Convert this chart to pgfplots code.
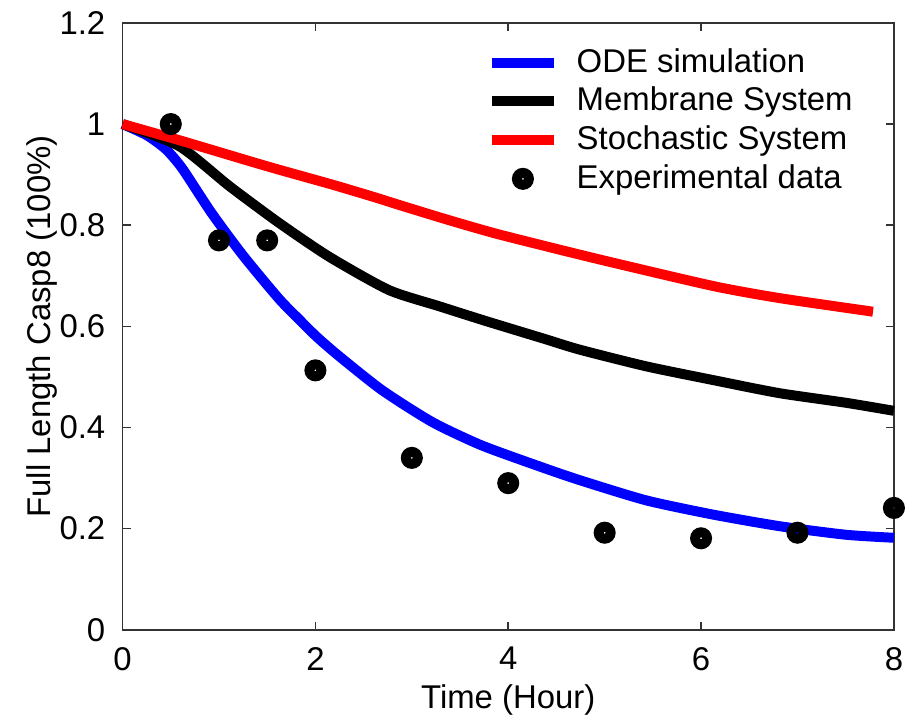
\documentclass[border=0pt]{standalone}
\usepackage{fontspec}
\setmainfont{Liberation Sans}
\usepackage{pgfplots}
\pgfplotsset{compat=1.18}
\begin{document}
\fontsize{16.5}{19}\selectfont
\begin{tikzpicture}
\begin{axis}[
  scale only axis,
  width=387pt, height=304.5pt,
  xmin=0, xmax=8, ymin=0, ymax=1.2,
  xtick={0,2,4,6,8},
  ytick={0,0.2,0.4,0.6,0.8,1,1.2},
  tick align=inside,
  major tick length=4pt,
  axis line style={line width=0.8pt, black!80},
  every tick/.style={line width=0.8pt, black!80},
  /pgf/number format/assume math mode=true,
  ticklabel style={font=\fontsize{16.5}{19}\selectfont},
  yticklabel style={xshift=-3pt},
  xticklabel style={yshift=-3pt},
  xlabel={Time (Hour)},
  ylabel={Full Length Casp8 (100\%)},
  label style={font=\fontsize{16.5}{19}\selectfont},
  xlabel style={yshift=4pt},
  ylabel style={yshift=-10pt},
  clip=false,
  legend style={at={(rel axis cs:0.96,0.972)}, anchor=north east, draw=none, fill=none,
    font=\fontsize{16.5}{19}\selectfont, row sep=1pt,
    /tikz/every odd column/.append style={column sep=7pt}},
  legend cell align=left,
  legend image code/.code={\draw[#1, line width=5pt] (0pt,0pt) -- (31pt,0pt);},
]
\addplot[blue, line width=5pt, smooth, tension=0.4] coordinates {
(0,1.0) (0.25,0.978) (0.45,0.950) (0.62,0.912) (0.92,0.825) (1.25,0.740) (1.62,0.655)
(1.83,0.614) (2.01,0.580) (2.24,0.542) (2.69,0.474) (3.21,0.411) (3.72,0.365) (4.34,0.322)
(4.74,0.296) (5.43,0.256) (6.12,0.228) (6.81,0.205) (7.50,0.188) (8.0,0.182)};
\addlegendentry{ODE simulation}
\addplot[black, line width=5pt, smooth, tension=0.4] coordinates {
(0,1.0) (0.59,0.956) (1.11,0.877) (1.62,0.805) (2.14,0.738) (2.76,0.672) (3.28,0.640)
(3.76,0.611) (4.38,0.575) (4.74,0.554) (5.43,0.521) (6.12,0.494) (6.81,0.468) (7.50,0.449) (8.0,0.433)};
\addlegendentry{Membrane System}
\addplot[red, line width=5pt, smooth, tension=0.4] coordinates {
(0,1.0) (0.59,0.968) (1.49,0.917) (2.18,0.880) (2.62,0.855) (2.87,0.840) (3.35,0.812)
(3.90,0.782) (4.91,0.734) (6.12,0.680) (6.81,0.656) (7.71,0.631) (7.77,0.629)};
\addlegendentry{Stochastic System}
\addplot[only marks, mark=o, mark size=3pt, line width=5pt, black,
  legend image code/.code={\draw[black, line width=5pt] (15.5pt,0pt) circle (3pt);}] coordinates {
(0.5,1.0) (1,0.77) (1.5,0.77) (2,0.513) (3,0.340) (4,0.290) (5,0.192) (6,0.181) (7,0.192) (8,0.241)};
\addlegendentry{Experimental data}
\path (rel axis cs:0,0) ++(-61.5pt,-42.5pt) coordinate (bbsw);
\path (rel axis cs:1,1) ++(8.5pt,11.5pt) coordinate (bbne);
\end{axis}
\useasboundingbox (bbsw) rectangle (bbne);
\end{tikzpicture}
\end{document}
